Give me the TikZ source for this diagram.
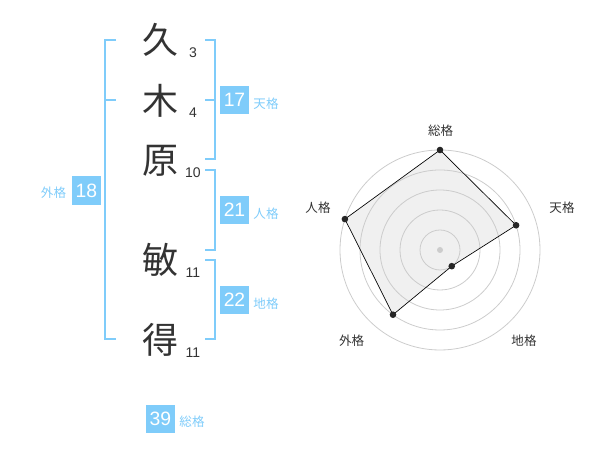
\documentclass[tikz,border=0pt]{standalone}
\usepackage{fontspec}
\setmainfont{Liberation Sans}
\newfontfamily\jpfont{Noto Sans CJK JP}
\usepackage{xcolor}
\definecolor{kakublue}{RGB}{127,204,250}
\definecolor{inkgray}{RGB}{51,51,51}
\definecolor{ringgray}{RGB}{204,204,204}
\definecolor{areagray}{RGB}{240,240,240}
\newcommand{\boxsize}{21.5pt}
\newcommand{\ringstep}{20}

\begin{document}
\begin{tikzpicture}[x=0.75pt,y=0.75pt]
            \useasboundingbox (0,0) rectangle (600,470);

            % name characters and stroke counts
            \begin{scope}[every node/.style={inner sep=0pt,text=inkgray}]
                \node[font=\jpfont\fontsize{27}{27}\selectfont] (k1) at (160.5,430) {久};
                \node[font=\jpfont\fontsize{27}{27}\selectfont] (k2) at (160.5,369) {木};
                \node[font=\jpfont\fontsize{27}{27}\selectfont] (k3) at (160.5,309) {原};
                \node[font=\jpfont\fontsize{27}{27}\selectfont] (k4) at (160.5,210) {敏};
                \node[font=\jpfont\fontsize{27}{27}\selectfont] (k5) at (160.5,130) {得};
                \node[font=\fontsize{10.5}{10.5}\selectfont] (n1) at (193,417) {3};
                \node[font=\fontsize{10.5}{10.5}\selectfont] (n2) at (193,357) {4};
                \node[font=\fontsize{10.5}{10.5}\selectfont] (n3) at (193,297) {10};
                \node[font=\fontsize{10.5}{10.5}\selectfont] (n4) at (193,197) {11};
                \node[font=\fontsize{10.5}{10.5}\selectfont] (n5) at (193,117) {11};
            \end{scope}

            % brackets
            \begin{scope}[draw=kakublue,line width=1.5pt]
                \draw (116,430) -- (105,430) -- (105,130.5) -- (116,130.5);
                \draw (105,370) -- (116,370);
                \draw (205,430) -- (215,430) -- (215,310.5) -- (205,310.5);
                \draw (205,370) -- (215,370);
                \draw (205,300) -- (215,300) -- (215,220) -- (205,220);
                \draw (205,210) -- (215,210) -- (215,130.5) -- (205,130.5);
            \end{scope}

            % values and labels
            \begin{scope}[every node/.style={fill=kakublue,text=white,inner sep=0pt,
                minimum size=\boxsize,font=\fontsize{14.5}{14.5}\selectfont}]
                \node (gai) at (86.5,279.5) {18};
                \node (ten) at (234.5,370) {17};
                \node (jin) at (234.5,260) {21};
                \node (chi) at (234.5,170) {22};
                \node (sou) at (160.5,51) {39};
            \end{scope}
            \begin{scope}[every node/.style={text=kakublue,inner sep=0pt,
                font=\jpfont\fontsize{9.4}{9.4}\selectfont}]
                \node (gail) at (53.5,277) {外格};
                \node (tenl) at (266,366) {天格};
                \node (jinl) at (266,256) {人格};
                \node (chil) at (266,166) {地格};
                \node (soul) at (192,48) {総格};
            \end{scope}

            % radar chart
            \begin{scope}[shift={(440,220)}]
                \coordinate (p1) at (90:100);
                \coordinate (p2) at (18:80);
                \coordinate (p3) at (-54:20);
                \coordinate (p4) at (234:80);
                \coordinate (p5) at (162:100);
                \fill[areagray] (p1) -- (p2) -- (p3) -- (p4) -- (p5) -- cycle;
                \foreach \r in {1,...,5}
                    \draw[ringgray,line width=0.6pt] (0,0) circle (\r*\ringstep);
                \fill[ringgray] (0,0) circle (3);
                \draw[black,line width=0.5pt] (p1) -- (p2) -- (p3) -- (p4) -- (p5) -- cycle;
                \foreach \p in {p1,p2,p3,p4,p5}
                    \fill[black!85] (\p) circle (3.3);
                \begin{scope}[every node/.style={text=inkgray,inner sep=0pt,
                    font=\jpfont\fontsize{9.4}{9.4}\selectfont}]
                    \node (r1) at (0.7,119.3) {総格};
                    \node (r2) at (122,42) {天格};
                    \node (r3) at (84,-91) {地格};
                    \node (r4) at (-88.3,-91) {外格};
                    \node (r5) at (-122,42) {人格};
                \end{scope}
            \end{scope}
            \end{tikzpicture}
\end{document}
